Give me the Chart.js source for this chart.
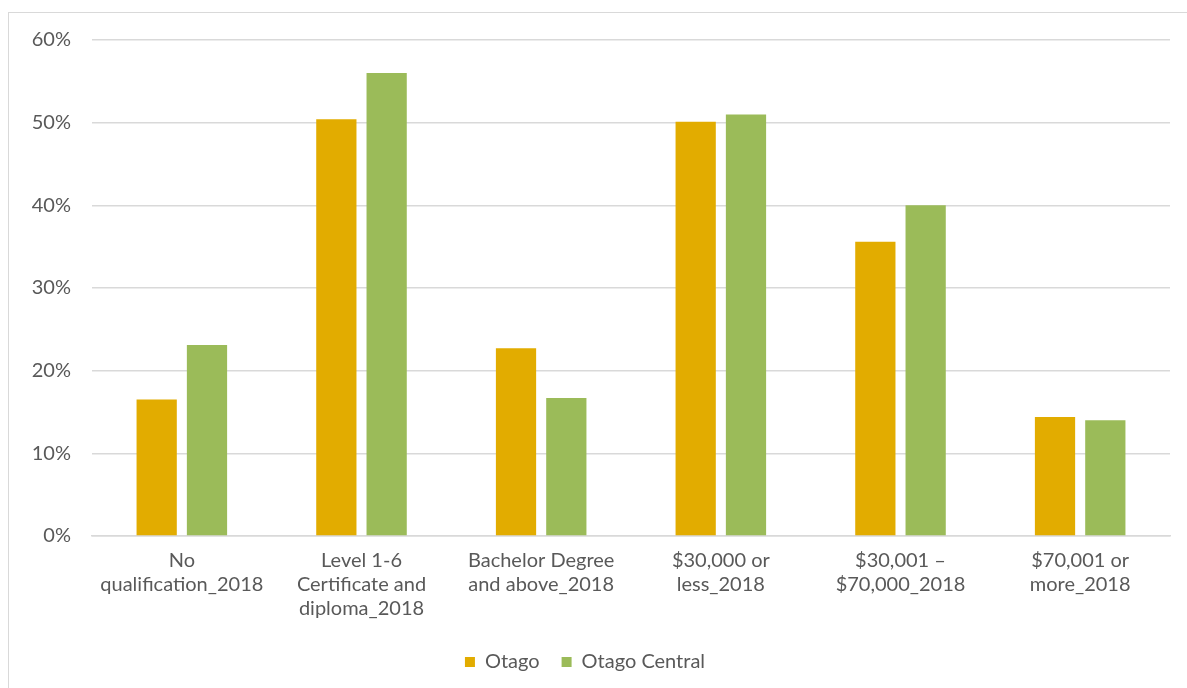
<!DOCTYPE html>
<html>
<head>
<meta charset="utf-8">
<script src="https://cdn.jsdelivr.net/npm/chart.js@4/dist/chart.umd.min.js"></script>
<style>
  html, body { margin: 0; padding: 0; background: #fff; overflow: hidden; }
  #frame { position: absolute; left: 8px; top: 12px; width: 1200px; height: 700px; border: 1.5px solid #d9d9d9; }
  #wrap { position: absolute; left: 0; top: 0; width: 1187px; height: 688px; }
</style>
</head>
<body>
<div id="frame"></div>
<div id="wrap"><canvas id="chart"></canvas></div>
<script>
// Categories (x axis)
const categories = [
  ["No", "qualification_2018"],
  ["Level 1-6", "Certificate and", "diploma_2018"],
  ["Bachelor Degree", "and above_2018"],
  ["$30,000 or", "less_2018"],
  ["$30,001 \u2013", "$70,000_2018"],
  ["$70,001 or", "more_2018"]
];

// Series values (percent)
const otago = [16.5, 50.4, 22.7, 50.1, 35.6, 14.4];
const otagoCentral = [23.1, 56.0, 16.7, 51.0, 40.0, 14.0];

const seriesNames = ["Otago", "Otago Central"];
const textColor = "#595959";
const gridColor = "#d9d9d9";
const fontFamily = "Lato, 'Open Sans', sans-serif";

new Chart(document.getElementById("chart"), {
  type: "bar",
  data: {
    labels: categories,
    datasets: [
      {
        label: seriesNames[0],
        data: otago,
        backgroundColor: "#E2AC00",
        barPercentage: 0.8,
        categoryPercentage: 0.56
      },
      {
        label: seriesNames[1],
        data: otagoCentral,
        backgroundColor: "#9BBB59",
        barPercentage: 0.8,
        categoryPercentage: 0.56
      }
    ]
  },
  options: {
    responsive: true,
    maintainAspectRatio: false,
    animation: false,
    layout: {
      padding: { left: 0, right: 17, top: 40, bottom: 6 }
    },
    plugins: {
      legend: {
        position: "bottom",
        labels: {
          boxWidth: 10,
          boxHeight: 10,
          padding: 22,
          color: textColor,
          font: { family: fontFamily, size: 20 }
        }
      },
      tooltip: { enabled: false }
    },
    scales: {
      x: {
        grid: { display: false, drawTicks: false },
        border: { color: gridColor, width: 1.5 },
        ticks: {
          color: textColor,
          padding: 13,
          maxRotation: 0,
          autoSkip: false,
          font: { family: fontFamily, size: 20, lineHeight: 1.2 }
        },
        afterFit: function (scale) { scale.height = 94; }
      },
      y: {
        min: 0,
        max: 60,
        grid: { color: gridColor, lineWidth: 1.5, drawTicks: false },
        border: { display: false },
        ticks: {
          stepSize: 10,
          color: textColor,
          padding: 21,
          font: { family: fontFamily, size: 20 },
          callback: function (v) { return v + "%"; }
        },
        afterFit: function (scale) { scale.width = 92; }
      }
    }
  }
});
</script>
</body>
</html>
